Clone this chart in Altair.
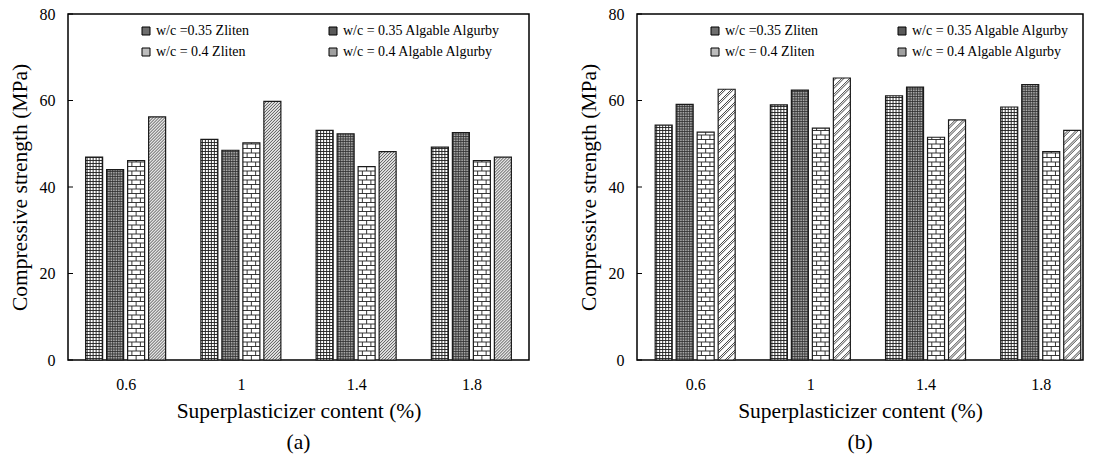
import altair as alt
import pandas as pd

# Superplasticizer dosage groups on the x axis
sp_labels = ["0.6", "1", "1.4", "1.8"]
series = [
    "w/c =0.35 Zliten",
    "w/c = 0.35 Algable Algurby",
    "w/c = 0.4 Zliten",
    "w/c = 0.4 Algable Algurby",
]

# Compressive strength (MPa), panel (a)
a_zliten_035 = [46.9, 51.0, 53.1, 49.2]
a_algurby_035 = [44.0, 48.5, 52.3, 52.6]
a_zliten_040 = [46.1, 50.2, 44.7, 46.1]
a_algurby_040 = [56.2, 59.8, 48.2, 46.9]

# Compressive strength (MPa), panel (b)
b_zliten_035 = [54.3, 59.0, 61.1, 58.5]
b_algurby_035 = [59.1, 62.4, 63.1, 63.7]
b_zliten_040 = [52.7, 53.6, 51.5, 48.2]
b_algurby_040 = [62.6, 65.2, 55.5, 53.1]

y_ticks = [0, 20, 40, 60, 80]
legend_tones = ["#6e6e6e", "#5a5a5a", "#bdbdbd", "#a0a0a0"]

FONT = "Liberation Serif"
PLOT_H = 346
Y_MAX = 80
PX_Y = PLOT_H / Y_MAX          # pixels per MPa
BAR_W = 17.0                   # bar width in pixels
BAR_STEP = 21.0                # bar pitch inside a group, pixels


# ---- fill textures, built in pixel space inside one bar (y upwards) ----
def hlines(h, w, start, step):
    out, y = [], start
    while y < h - 0.3:
        out.append((0.0, y, w, y))
        y += step
    return out


def vlines(h, w, start, step):
    out, x = [], start
    while x < w - 0.3:
        out.append((x, 0.0, x, h))
        x += step
    return out


def bricks(h, w, row, brick):
    out = hlines(h, w, row, row)
    j, y = 0, 0.0
    while y < h - 0.3:
        top = min(y + row, h)
        x = brick / 2 if j % 2 else brick
        while x < w - 0.5:
            out.append((x, y, x, top))
            x += brick
        y += row
        j += 1
    return out


def diagonals(h, w, step, phase=0.0):
    out, ys = [], -w + phase
    while ys < h:
        t0, t1 = max(0.0, -ys), min(w, h - ys)
        if t1 - t0 > 0.2:
            out.append((t0, ys + t0, t1, ys + t1))
        ys += step
    return out


def texture(kind, h, w):
    """Line segments, line colour, line width and ground colour of a fill."""
    if kind == "grid":
        return hlines(h, w, 1.5, 3.0) + vlines(h, w, 1.5, 3.0), "#1e1e1e", 0.9, "#ffffff"
    if kind == "dots":
        return hlines(h, w, 1.0, 2.5) + vlines(h, w, 1.0, 2.5), "#2e2e2e", 0.8, "#a8a8a8"
    if kind == "brick":
        return bricks(h, w, 4.5, 8.5), "#222222", 0.9, "#ffffff"
    if kind == "fine_diag":
        return diagonals(h, w, 3.0), "#4a4a4a", 0.9, "#e4e4e4"
    return diagonals(h, w, 8.0) + diagonals(h, w, 8.0, 2.2), "#2a2a2a", 0.9, "#ffffff"


def panel(values, kinds, px_x, x_domain, width, letter):
    bars, lines = [], []
    for k, (name, vals) in enumerate(zip(series, values)):
        for g, v in enumerate(vals):
            cx = g + (k - 1.5) * BAR_STEP / px_x
            x0 = cx - BAR_W / 2 / px_x
            segs, col, sw, bg = texture(kinds[k], v * PX_Y, BAR_W)
            bars.append(dict(series=name, content=sp_labels[g], x0=x0,
                             x1=cx + BAR_W / 2 / px_x, strength=v, base=0, bg=bg))
            for xa, ya, xb, yb in segs:
                lines.append(dict(x0=x0 + xa / px_x, x1=x0 + xb / px_x,
                                  strength=ya / PX_Y, top=yb / PX_Y, col=col, sw=sw))
    bars_df = pd.DataFrame(bars)
    lines_df = pd.DataFrame(lines)
    ticks_df = pd.DataFrame({"strength": y_ticks})

    xs = alt.Scale(domain=x_domain, nice=False, zero=False)
    ys = alt.Scale(domain=[0, Y_MAX], nice=False)
    label_js = "[" + ",".join("'%s'" % s for s in sp_labels) + "][datum.value]"

    x_title = "Superplasticizer content (%)"
    y_title = "Compressive strength (MPa)"
    x_axis = alt.Axis(values=[0, 1, 2, 3], labelExpr=label_js, domain=False,
                      ticks=False, grid=False, labelPadding=16, titlePadding=8,
                      labelFont=FONT, titleFont=FONT)
    y_axis = alt.Axis(values=y_ticks, domain=False, ticks=False, grid=False,
                      labelPadding=13, titlePadding=8,
                      labelFont=FONT, titleFont=FONT)

    def xenc():
        return alt.X("x0:Q", scale=xs, axis=x_axis, title=x_title)

    def yenc():
        return alt.Y("strength:Q", scale=ys, axis=y_axis, title=y_title)

    base = alt.Chart(bars_df).mark_rect().encode(
        x=xenc(), x2="x1:Q", y=yenc(), y2="base:Q",
        fill=alt.Fill("bg:N", scale=None),
    )
    hatch = alt.Chart(lines_df).mark_rule(strokeCap="butt").encode(
        x=xenc(), x2="x1:Q", y=yenc(), y2="top:Q",
        stroke=alt.Stroke("col:N", scale=None),
        strokeWidth=alt.StrokeWidth("sw:Q", scale=None),
    )
    outline = alt.Chart(bars_df).mark_rect(fillOpacity=0, stroke="#1a1a1a",
                                           strokeWidth=1.2).encode(
        x=xenc(), x2="x1:Q", y=yenc(), y2="base:Q",
    )
    key = alt.Chart(bars_df).mark_rect(opacity=0).encode(
        x=xenc(), x2="x1:Q", y=yenc(), y2="base:Q",
        color=alt.Color("series:N", scale=alt.Scale(domain=series, range=legend_tones),
                        legend=alt.Legend(
                            title=None, orient="none", legendX=71, legendY=10,
                            direction="horizontal", columns=2, columnPadding=76,
                            rowPadding=7, symbolType="square", symbolSize=64,
                            symbolOpacity=1, symbolStrokeColor="black",
                            symbolStrokeWidth=1, labelOffset=3, padding=0)),
    )
    inner_ticks = alt.Chart(ticks_df).mark_rule(color="black", strokeWidth=1).encode(
        y=yenc(), x=alt.value(0), x2=alt.value(5),
    )
    return alt.layer(base, hatch, outline, key, inner_ticks).properties(
        width=width, height=PLOT_H,
        title=alt.TitleParams(letter, orient="bottom", offset=10),
    )


panel_a = panel([a_zliten_035, a_algurby_035, a_zliten_040, a_algurby_040],
                ["grid", "dots", "brick", "fine_diag"],
                115.25, [-0.5, 3.5], 461, "(a)")
panel_b = panel([b_zliten_035, b_algurby_035, b_zliten_040, b_algurby_040],
                ["grid", "dots", "brick", "wide_diag"],
                115.2, [-0.505, 3.367], 446, "(b)")

chart = alt.hconcat(panel_a, panel_b, spacing=47).resolve_scale(
    color="independent"
).properties(
    padding={"left": 8, "top": 5, "right": 0, "bottom": 0},
    background="white",
).configure(
    font=FONT,
).configure_view(
    stroke="black", strokeWidth=1.5
).configure_axis(
    labelFont=FONT, labelFontSize=16, labelColor="black",
    titleFont=FONT, titleFontSize=21.5, titleFontWeight="normal", titleColor="black",
).configure_legend(
    labelFont=FONT, labelFontSize=14, labelColor="black",
).configure_title(
    font=FONT, fontSize=21.5, fontWeight="normal", color="black",
)

chart.save("out.html", embed_options={"renderer": "svg", "actions": False})
